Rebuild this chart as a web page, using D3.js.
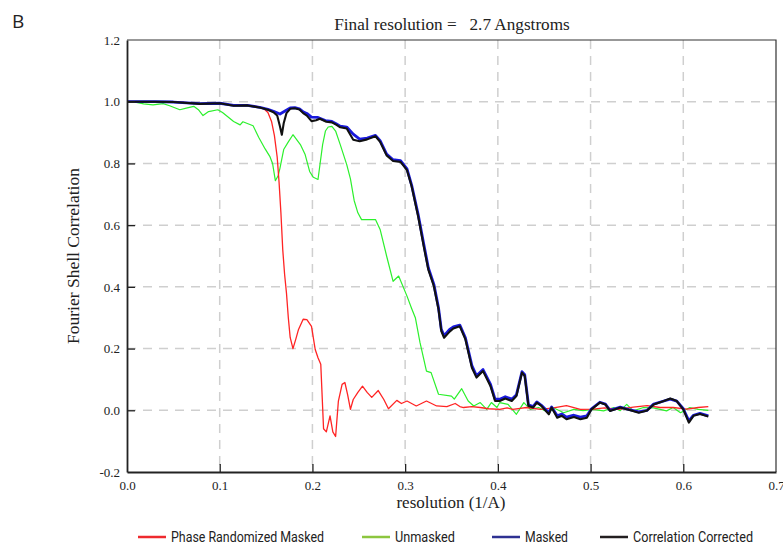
<!DOCTYPE html>
<html>
<head>
<meta charset="utf-8">
<script src="https://cdn.jsdelivr.net/npm/d3@7"></script>
<style>
  body { margin: 0; background: #fff; }
  svg { display: block; }
</style>
</head>
<body>
<svg id="chart" width="783" height="546"></svg>
<script>
// data (x in 1/A, y = FSC)
var phaseRandomized = [[0,1.0],[0.02,1.0],[0.05,0.999],[0.065,0.997],[0.079,0.993],[0.09,0.995],[0.1,0.995],[0.115,0.988],[0.13,0.988],[0.14,0.985],[0.147,0.979],[0.152,0.965],[0.156,0.935],[0.159,0.89],[0.162,0.82],[0.164,0.74],[0.166,0.64],[0.168,0.52],[0.170,0.44],[0.172,0.38],[0.174,0.30],[0.176,0.236],[0.179,0.20],[0.182,0.23],[0.185,0.262],[0.190,0.295],[0.194,0.294],[0.199,0.272],[0.203,0.197],[0.206,0.17],[0.209,0.149],[0.212,-0.06],[0.215,-0.07],[0.219,-0.018],[0.222,-0.07],[0.225,-0.085],[0.228,0.03],[0.232,0.084],[0.235,0.09],[0.238,0.05],[0.241,0.003],[0.244,0.035],[0.249,0.058],[0.254,0.078],[0.259,0.058],[0.264,0.042],[0.271,0.064],[0.277,0.035],[0.282,0.005],[0.291,0.032],[0.296,0.022],[0.302,0.03],[0.312,0.014],[0.323,0.03],[0.334,0.014],[0.345,0.012],[0.354,0.022],[0.359,0.012],[0.363,0.009],[0.372,0.012],[0.381,0.009],[0.39,0.005],[0.402,0.003],[0.41,0.008],[0.416,0.003],[0.424,0.006],[0.431,0.009],[0.446,0.003],[0.46,0.008],[0.474,0.015],[0.489,0.003],[0.503,0.004],[0.515,0.008],[0.53,0.003],[0.546,0.01],[0.561,0.015],[0.575,0.009],[0.589,0.009],[0.604,0.004],[0.616,0.009],[0.627,0.012]];

var unmasked = [[0,1.0],[0.01,0.998],[0.018,0.993],[0.028,0.99],[0.039,0.994],[0.046,0.987],[0.057,0.974],[0.065,0.98],[0.072,0.985],[0.077,0.974],[0.082,0.955],[0.088,0.968],[0.098,0.974],[0.103,0.965],[0.108,0.953],[0.115,0.936],[0.122,0.925],[0.125,0.935],[0.136,0.922],[0.142,0.885],[0.149,0.847],[0.154,0.823],[0.157,0.80],[0.160,0.744],[0.163,0.76],[0.165,0.785],[0.169,0.845],[0.174,0.87],[0.179,0.893],[0.187,0.861],[0.192,0.83],[0.197,0.774],[0.201,0.755],[0.206,0.748],[0.211,0.861],[0.214,0.905],[0.217,0.918],[0.221,0.92],[0.225,0.905],[0.23,0.861],[0.237,0.796],[0.241,0.75],[0.245,0.68],[0.249,0.64],[0.253,0.618],[0.268,0.618],[0.273,0.586],[0.28,0.50],[0.287,0.418],[0.293,0.435],[0.302,0.37],[0.307,0.33],[0.311,0.30],[0.316,0.22],[0.323,0.127],[0.328,0.122],[0.336,0.052],[0.35,0.046],[0.353,0.036],[0.361,0.07],[0.368,0.03],[0.374,0.014],[0.381,0.025],[0.388,0.003],[0.393,0.025],[0.399,0.009],[0.402,0.025],[0.411,0.019],[0.42,-0.013],[0.428,0.025],[0.435,0.003],[0.444,0.009],[0.455,-0.008],[0.46,0.008],[0.471,-0.008],[0.482,0.003],[0.492,-0.001],[0.503,0.003],[0.514,-0.002],[0.525,0.009],[0.532,-0.001],[0.539,0.019],[0.546,-0.002],[0.557,0.009],[0.568,0.008],[0.582,-0.002],[0.589,0.009],[0.597,-0.008],[0.607,0.009],[0.616,0.003],[0.627,0.0]];

var masked = [[0,1.0],[0.03,1.0],[0.05,0.999],[0.079,0.994],[0.1,0.995],[0.115,0.988],[0.13,0.988],[0.143,0.982],[0.152,0.975],[0.158,0.969],[0.165,0.96],[0.170,0.969],[0.176,0.98],[0.181,0.981],[0.186,0.977],[0.19,0.967],[0.194,0.962],[0.199,0.95],[0.206,0.949],[0.214,0.939],[0.221,0.936],[0.226,0.928],[0.230,0.921],[0.237,0.918],[0.244,0.895],[0.251,0.879],[0.259,0.882],[0.268,0.891],[0.273,0.874],[0.28,0.83],[0.287,0.812],[0.295,0.809],[0.302,0.782],[0.307,0.73],[0.314,0.635],[0.32,0.54],[0.325,0.462],[0.331,0.408],[0.336,0.332],[0.339,0.262],[0.342,0.242],[0.348,0.262],[0.352,0.27],[0.359,0.276],[0.365,0.235],[0.372,0.145],[0.377,0.112],[0.384,0.132],[0.392,0.085],[0.397,0.036],[0.402,0.036],[0.408,0.044],[0.415,0.036],[0.42,0.05],[0.426,0.125],[0.429,0.115],[0.433,0.018],[0.438,0.012],[0.442,0.027],[0.447,0.016],[0.455,-0.008],[0.458,0.011],[0.464,-0.018],[0.469,-0.012],[0.474,-0.022],[0.482,-0.016],[0.489,-0.022],[0.496,-0.018],[0.501,0.005],[0.51,0.026],[0.516,0.02],[0.521,0.0],[0.532,0.01],[0.543,0.001],[0.552,-0.005],[0.561,0.0],[0.568,0.02],[0.579,0.03],[0.586,0.036],[0.593,0.03],[0.6,0.005],[0.606,-0.034],[0.611,-0.016],[0.618,-0.01],[0.627,-0.018]];

var corrected = [[0,1.0],[0.03,1.0],[0.05,0.999],[0.079,0.993],[0.1,0.995],[0.115,0.987],[0.13,0.988],[0.143,0.981],[0.152,0.974],[0.158,0.966],[0.162,0.955],[0.165,0.92],[0.167,0.893],[0.169,0.93],[0.172,0.963],[0.176,0.977],[0.181,0.979],[0.186,0.975],[0.19,0.963],[0.194,0.955],[0.199,0.937],[0.204,0.94],[0.208,0.945],[0.215,0.935],[0.221,0.933],[0.226,0.925],[0.230,0.917],[0.237,0.913],[0.244,0.877],[0.251,0.872],[0.259,0.878],[0.268,0.888],[0.273,0.87],[0.28,0.826],[0.287,0.808],[0.295,0.805],[0.302,0.778],[0.307,0.726],[0.314,0.629],[0.32,0.532],[0.325,0.456],[0.331,0.402],[0.336,0.327],[0.339,0.257],[0.342,0.235],[0.348,0.255],[0.352,0.265],[0.359,0.272],[0.365,0.23],[0.372,0.138],[0.377,0.106],[0.384,0.127],[0.392,0.079],[0.397,0.03],[0.402,0.03],[0.408,0.038],[0.415,0.03],[0.42,0.046],[0.426,0.122],[0.429,0.111],[0.433,0.014],[0.438,0.009],[0.442,0.025],[0.447,0.014],[0.455,-0.013],[0.458,0.009],[0.464,-0.024],[0.469,-0.018],[0.474,-0.029],[0.482,-0.022],[0.489,-0.029],[0.496,-0.024],[0.501,0.003],[0.51,0.025],[0.516,0.019],[0.521,-0.002],[0.532,0.009],[0.543,0.0],[0.552,-0.008],[0.561,-0.001],[0.568,0.019],[0.579,0.03],[0.586,0.038],[0.593,0.03],[0.6,0.003],[0.606,-0.04],[0.611,-0.018],[0.618,-0.012],[0.627,-0.02]];

var xTicks = [0, 0.1, 0.2, 0.3, 0.4, 0.5, 0.6, 0.7];
var yTicks = [-0.2, 0, 0.2, 0.4, 0.6, 0.8, 1.0, 1.2];
var legendNames = ['Phase Randomized Masked', 'Unmasked', 'Masked', 'Correlation Corrected'];
var legendColors = ['#ee2a2e', '#8cc63f', '#2e3192', '#231f20'];

// layout
var plotLeft = 127, plotRight = 776, plotTop = 40, plotBottom = 472;
var serif = '"Liberation Serif", "Times New Roman", serif';

var svg = d3.select('#chart');

var x = d3.scaleLinear().domain([0, 0.7]).range([plotLeft, plotRight]);
var y = d3.scaleLinear().domain([-0.2, 1.2]).range([plotBottom, plotTop]);

// plain hyphen for negatives, like the original
var fmt = function (d) { return d.toFixed(1); };

// dashed grid
var grid = svg.append('g')
    .attr('stroke', '#cfcfcf')
    .attr('stroke-width', 1.5)
    .attr('stroke-dasharray', '9,7');
grid.selectAll('.vg')
    .data(xTicks.slice(1, -1))
    .enter().append('line')
    .attr('x1', function (d) { return x(d); })
    .attr('x2', function (d) { return x(d); })
    .attr('y1', plotTop).attr('y2', plotBottom);
grid.selectAll('.hg')
    .data(yTicks.slice(1, -1))
    .enter().append('line')
    .attr('y1', function (d) { return y(d); })
    .attr('y2', function (d) { return y(d); })
    .attr('x1', plotLeft).attr('x2', plotRight);

// frame top / right
svg.append('path')
    .attr('d', 'M' + plotLeft + ',' + plotTop + 'H' + plotRight + 'V' + plotBottom)
    .attr('fill', 'none')
    .attr('stroke', '#333')
    .attr('stroke-width', 1.2);

// curves
var line = d3.line()
    .x(function (d) { return x(d[0]); })
    .y(function (d) { return y(d[1]); });

var series = [
  { data: unmasked, color: '#2cf02c', width: 1.2 },
  { data: phaseRandomized, color: '#ff2424', width: 1.3 },
  { data: masked, color: '#1a1adc', width: 2.8 },
  { data: corrected, color: '#111', width: 2.1 }
];
svg.selectAll('.curve')
    .data(series)
    .enter().append('path')
    .attr('class', 'curve')
    .attr('fill', 'none')
    .attr('stroke', function (d) { return d.color; })
    .attr('stroke-width', function (d) { return d.width; })
    .attr('stroke-linejoin', 'round')
    .attr('d', function (d) { return line(d.data); });

// axes, ticks pointing inward
var xAxis = svg.append('g')
    .attr('transform', 'translate(0,' + plotBottom + ')')
    .call(d3.axisBottom(x).tickValues(xTicks).tickFormat(fmt)
      .tickSizeInner(-8).tickSizeOuter(0).tickPadding(9));
var yAxis = svg.append('g')
    .attr('transform', 'translate(' + plotLeft + ',0)')
    .call(d3.axisLeft(y).tickValues(yTicks).tickFormat(fmt)
      .tickSizeInner(-8).tickSizeOuter(0).tickPadding(7));

[xAxis, yAxis].forEach(function (g) {
  g.select('.domain').attr('stroke', '#222').attr('stroke-width', 1.8);
  g.selectAll('.tick line').attr('stroke', '#222').attr('stroke-width', 1.3);
  g.selectAll('.tick text')
    .attr('font-family', serif)
    .attr('font-size', 13)
    .attr('fill', '#222');
});
xAxis.selectAll('.tick').filter(function (d) { return d === 0 || d === 0.7; })
    .select('line').remove();
yAxis.selectAll('.tick').filter(function (d) { return d === 1.2 || d === -0.2; })
    .select('line').remove();

// titles
svg.append('text')
    .attr('x', 12).attr('y', 28)
    .attr('font-family', '"Open Sans", sans-serif')
    .attr('font-size', 19)
    .attr('fill', '#222')
    .text('B');

svg.append('text')
    .attr('x', 452).attr('y', 30)
    .attr('text-anchor', 'middle')
    .attr('font-family', serif)
    .attr('font-size', 17.2)
    .attr('fill', '#222')
    .attr('xml:space', 'preserve')
    .text('Final resolution =   2.7 Angstroms');

svg.append('text')
    .attr('x', 451).attr('y', 508)
    .attr('text-anchor', 'middle')
    .attr('font-family', serif)
    .attr('font-size', 17)
    .attr('fill', '#222')
    .text('resolution (1/A)');

svg.append('text')
    .attr('transform', 'translate(79,256) rotate(-90)')
    .attr('text-anchor', 'middle')
    .attr('font-family', serif)
    .attr('font-size', 17.5)
    .attr('fill', '#222')
    .text('Fourier Shell Correlation');

// legend
var legendX = [138, 362, 492, 600],
    legendW = [153, 60, 43, 120];
var legend = svg.selectAll('.legend')
    .data(legendNames)
    .enter().append('g')
    .attr('class', 'legend')
    .attr('transform', function (d, i) { return 'translate(' + legendX[i] + ',537)'; });
legend.append('line')
    .attr('x1', 0).attr('x2', 28)
    .attr('stroke', function (d, i) { return legendColors[i]; })
    .attr('stroke-width', 2.5);
legend.append('text')
    .attr('x', 33).attr('y', 5)
    .attr('font-family', '"Liberation Sans Narrow", "Roboto", sans-serif')
    .attr('font-size', 14)
    .attr('fill', '#222')
    .attr('textLength', function (d, i) { return legendW[i]; })
    .attr('lengthAdjust', 'spacingAndGlyphs')
    .text(function (d) { return d; });
</script>
</body>
</html>
